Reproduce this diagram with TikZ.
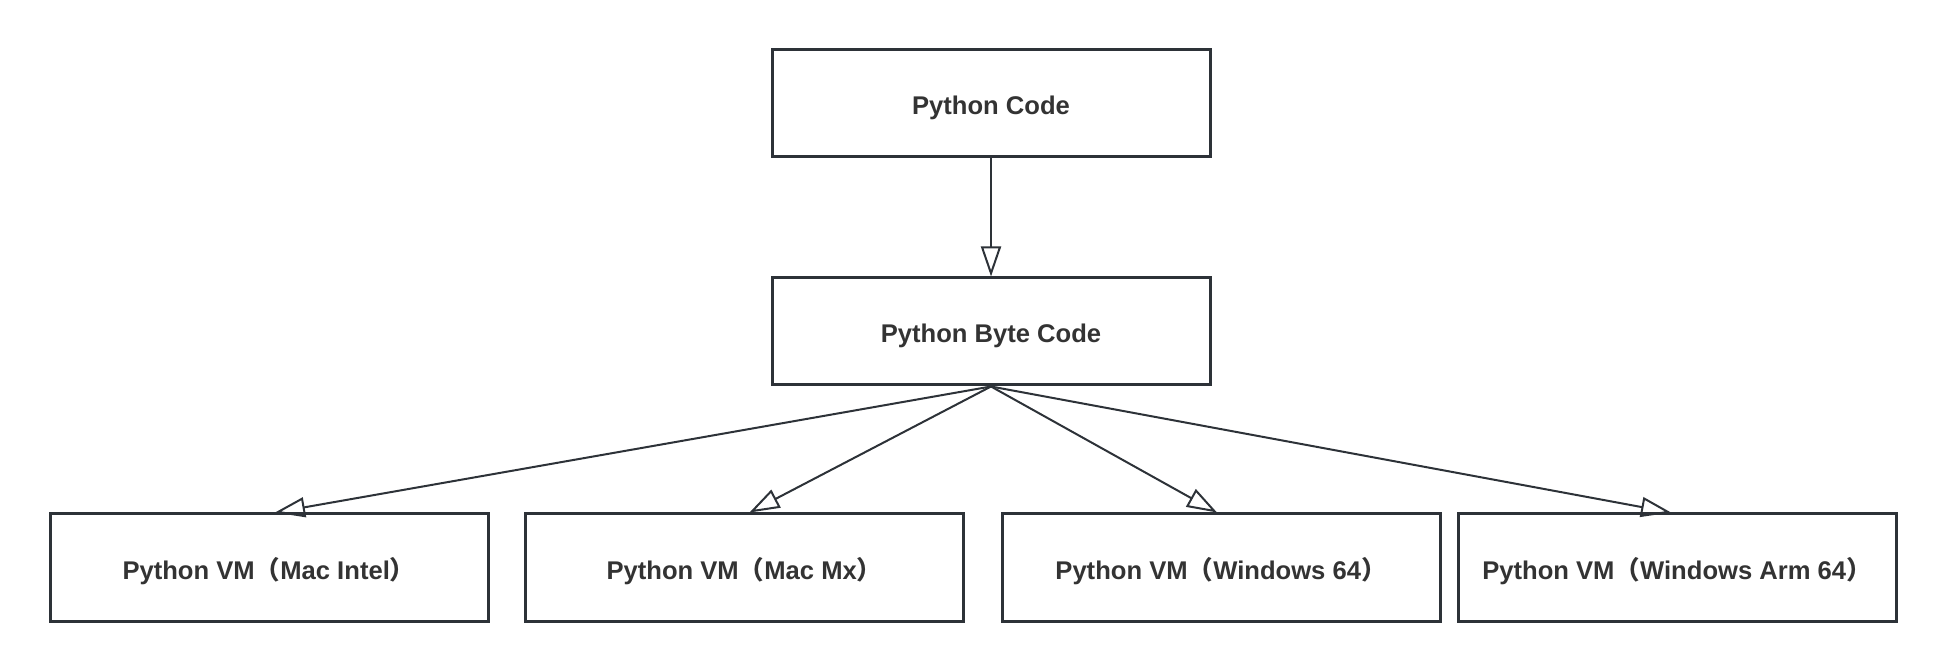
\documentclass[tikz,border=0pt]{standalone}
\usepackage{fontspec}
\setmainfont{Liberation Sans}
\newfontfamily\cjk{Noto Sans CJK SC}
\usetikzlibrary{arrows.meta}
\definecolor{boxline}{RGB}{45,50,56}
\definecolor{txt}{RGB}{51,51,51}
\newcommand{\lp}{{\cjk （}}
\newcommand{\rp}{{\cjk ）}}
\tikzset{
  box/.style={draw=boxline, line width=1.5pt, rectangle, inner sep=0pt,
    minimum width=219pt, minimum height=53.5pt, text=txt,
    text height=11.5pt, text depth=0pt,
    font=\fontsize{12.8pt}{15pt}\selectfont\bfseries},
  conn/.style={draw=boxline, line width=1pt,
    -{Triangle[open, length=15pt, width=10pt, line width=1pt]}}
}
\begin{document}
\begin{tikzpicture}[x=0.5pt, y=-0.5pt]
  \useasboundingbox (0,0) rectangle (1946,672);
  \node[box] (code) at (991,103.5) {Python Code};
  \node[box] (byte) at (991,331.5) {Python Byte Code};
  \node[box] (b1) at (269,567.5) {Python VM\lp Mac Intel\rp};
  \node[box] (b2) at (744.5,567.5) {Python VM\lp Mac Mx\rp};
  \node[box] (b3) at (1221,567.5) {Python VM\lp Windows 64\rp};
  \node[box] (b4) at (1677,567.5) {Python VM\lp Windows Arm 64\rp};
  \draw[conn] (code.south) -- (byte.north);
  \draw[conn] (byte.south) -- ([xshift=3pt]b1.north);
  \draw[conn] (byte.south) -- ([xshift=2.5pt]b2.north);
  \draw[conn] (byte.south) -- ([xshift=-2pt]b3.north);
  \draw[conn] (byte.south) -- ([xshift=-3pt]b4.north);
\end{tikzpicture}
\end{document}
